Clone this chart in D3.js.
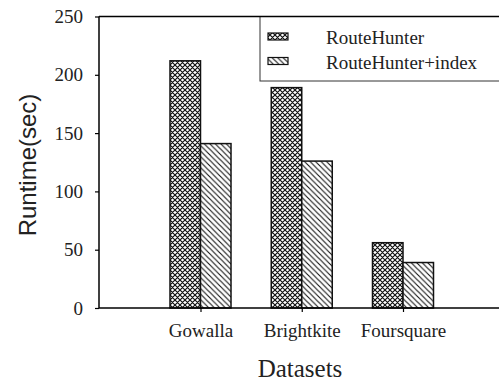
<!DOCTYPE html>
<html><head><meta charset="utf-8">
<script src="https://cdn.jsdelivr.net/npm/d3@7"></script>
<style>body{margin:0;background:#fff}svg{display:block}</style>
</head><body>
<svg id="c" width="499" height="384"></svg>
<script>
const categories = ["Gowalla", "Brightkite", "Foursquare"];
const seriesNames = ["RouteHunter", "RouteHunter+index"];
const routeHunter = [212, 189, 56];
const routeHunterIndex = [141, 126, 39];
const yTicks = [0, 50, 100, 150, 200, 250];

const svg = d3.select("#c");
const defs = svg.append("defs");
const pc = defs.append("pattern").attr("id","cross").attr("patternUnits","userSpaceOnUse").attr("width",5).attr("height",5);
pc.append("rect").attr("width",5).attr("height",5).attr("fill","#fff");
pc.append("path").attr("d","M0,0L5,5M5,0L0,5M-1,4L1,6M4,-1L6,1M-1,1L1,-1M4,6L6,4").attr("stroke","#111").attr("stroke-width",1.2);
const pd = defs.append("pattern").attr("id","diag").attr("patternUnits","userSpaceOnUse").attr("width",5.5).attr("height",5.5);
pd.append("rect").attr("width",5.5).attr("height",5.5).attr("fill","#fff");
pd.append("path").attr("d","M0,0L5.5,5.5M-1,4.5L1,6.5M4.5,-1L6.5,1").attr("stroke","#111").attr("stroke-width",1.1);
const fills = ["url(#cross)", "url(#diag)"];

const y = d3.scaleLinear().domain([0,250]).range([308,16.5]);
const x = d3.scalePoint().domain(categories).range([200.5,403]);
const bw = 30.5;

const yAxis = svg.append("g").attr("transform","translate(99,0)").call(d3.axisLeft(y).tickValues(yTicks).tickSize(4).tickPadding(12));
yAxis.select(".domain").attr("stroke-width",1.5).attr("d","M0,16.5V308");
yAxis.selectAll(".tick line").attr("stroke-width",1.2);
yAxis.selectAll("text").attr("font-family","Liberation Serif").attr("font-size",19).attr("fill","#222");

const series = [routeHunter, routeHunterIndex];
series.forEach((vals, s) => {
  svg.append("g").selectAll("rect").data(vals).join("rect")
    .attr("x", (d,i) => x(categories[i]) + (s-1)*bw)
    .attr("y", d => y(d))
    .attr("width", bw)
    .attr("height", d => y(0) - y(d))
    .attr("fill", fills[s]).attr("stroke","#111").attr("stroke-width",1.5);
});

const xAxis = svg.append("g").attr("transform","translate(0,308)").call(d3.axisBottom(x).tickSize(4).tickPadding(12));
xAxis.select(".domain").attr("stroke-width",1.5).attr("d","M99,0H499");
xAxis.selectAll(".tick line").attr("stroke-width",1.2);
xAxis.selectAll("text").attr("font-family","Liberation Serif").attr("font-size",19).attr("fill","#222");

// legend
svg.append("rect").attr("x",260).attr("y",16.5).attr("width",245).attr("height",64.5).attr("fill","#fff").attr("stroke","#333").attr("stroke-width",1);
svg.append("line").attr("x1",99).attr("x2",499).attr("y1",16.5).attr("y2",16.5).attr("stroke","#000").attr("stroke-width",1.5);
seriesNames.forEach((n,i) => {
  svg.append("rect").attr("x",268).attr("y",33+i*24.5).attr("width",20).attr("height",7).attr("fill",fills[i]).attr("stroke","#111").attr("stroke-width",1.2);
  svg.append("text").attr("x",326).attr("y",44+i*24.5).attr("font-family","Liberation Serif").attr("font-size",19).attr("fill","#222").text(n);
});

svg.append("text").attr("transform","translate(36,165) rotate(-90)").attr("text-anchor","middle")
  .attr("font-family","Liberation Sans").attr("font-size",24).attr("fill","#222").text("Runtime(sec)");
svg.append("text").attr("x",300).attr("y",377).attr("text-anchor","middle")
  .attr("font-family","Liberation Serif").attr("font-size",25).attr("fill","#222").text("Datasets");
</script>
</body></html>
